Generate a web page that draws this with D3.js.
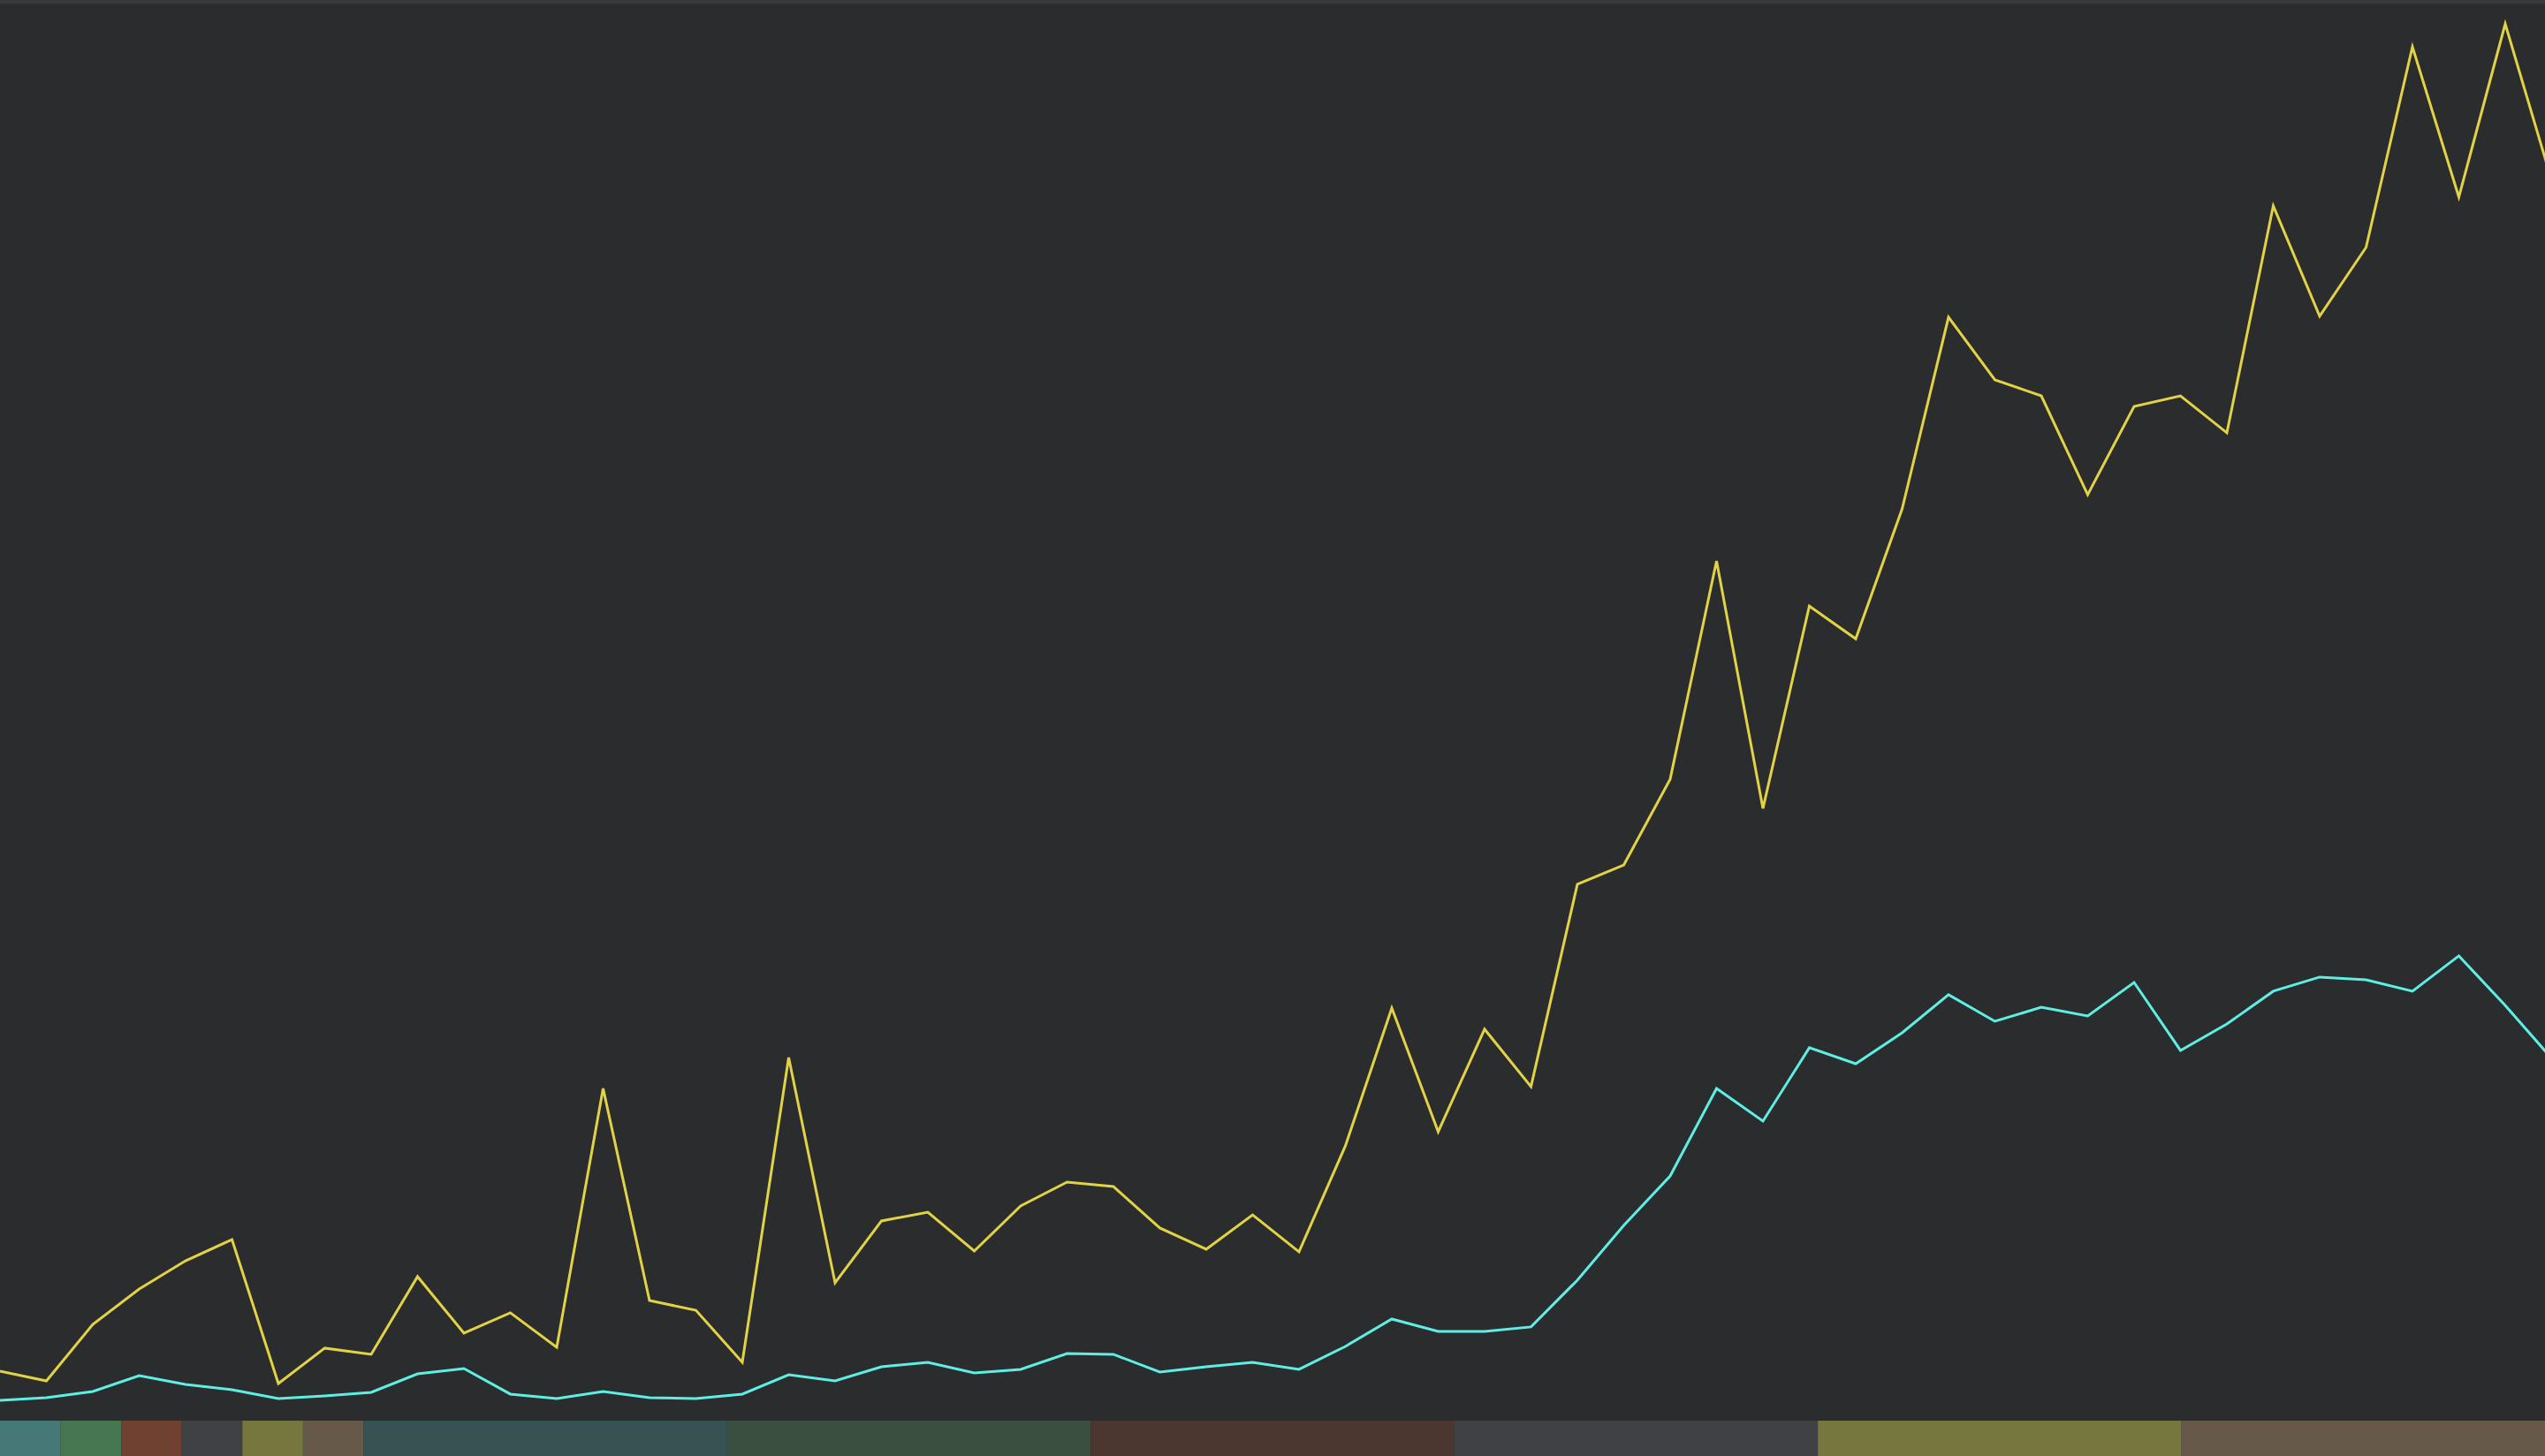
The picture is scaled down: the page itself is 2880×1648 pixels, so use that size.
<!DOCTYPE html>
<html>
<head>
<meta charset="utf-8">
<script src="https://cdn.jsdelivr.net/npm/d3@7"></script>
<style>
  html, body { margin: 0; padding: 0; background: #2a2c2e; overflow: hidden; }
  svg { display: block; }
</style>
</head>
<body>
<svg id="chart" width="2880" height="1648"></svg>
<script>
// ---- data ----
const indexes = d3.range(0, 56);
const yellowSeries = [30, 23.1, 63.1, 88.1, 108.1, 123.1, 21.3, 46.3, 41.9, 96.9,
  56.9, 71.3, 46.9, 230, 80, 73.1, 36.3, 251.9, 92.5, 136.3,
  142.5, 115, 146.9, 163.8, 160.6, 131.3, 116.3, 140.6, 114.4, 189.4,
  286.9, 199.4, 271.9, 231.3, 374.4, 388.1, 448.8, 603.1, 428.1, 571.3,
  548.1, 640, 775.6, 731.3, 720, 650, 712.5, 720, 693.8, 854.4,
  776.3, 825, 966.9, 860.6, 983.1, 872.5];
const cyanSeries = [9.4, 11.3, 15.6, 26.9, 20.6, 16.9, 10.6, 12.5, 15, 28.1,
  31.9, 13.8, 10.6, 15.6, 11.3, 10.6, 13.8, 27.5, 23.1, 33.1,
  36.3, 28.8, 31.3, 42.5, 41.9, 29.4, 33.1, 36.3, 31.3, 47.5,
  66.9, 58.1, 58.1, 61.3, 94.4, 133.1, 168.1, 230, 206.9, 258.8,
  247.5, 269.4, 296.3, 277.5, 287.5, 281.3, 305, 256.9, 275.6, 298.8,
  308.8, 306.9, 298.8, 323.8, 288.8, 251.3];
const bandUnits = [1, 1, 1, 1, 1, 1, 6, 6, 6, 6, 6, 6];
const bandColors = ["#467878", "#477750", "#6e4130", "#404144", "#76773f", "#67594a",
  "#375253", "#3a4f40", "#4b3630", "#404144", "#76773f", "#67594a"];

// ---- layout ----
const W = 2880, H = 1648;
const bandTop = 1608, bandH = 40;
const svg = d3.select("#chart");

svg.append("rect").attr("x", 0).attr("y", 0).attr("width", W).attr("height", H).attr("fill", "#2a2c2e");
svg.append("rect").attr("x", 0).attr("y", 0).attr("width", W).attr("height", 4).attr("fill", "#37393d");
svg.append("rect").attr("x", 0).attr("y", 4).attr("width", W).attr("height", 1).attr("fill", "#2e3032");

const x = d3.scaleLinear().domain([0, 54]).range([0, 2835]);
const y = d3.scaleLinear().domain([0, 1000]).range([1600, 0]);

const clip = svg.append("defs").append("clipPath").attr("id", "plotclip");
clip.append("rect").attr("x", 0).attr("y", 5).attr("width", W).attr("height", bandTop - 5);

const line = d3.line().x((d, i) => x(indexes[i])).y(d => y(d)).curve(d3.curveLinear);

const g = svg.append("g").attr("clip-path", "url(#plotclip)");
g.append("path").datum(yellowSeries).attr("d", line)
  .attr("fill", "none").attr("stroke", "#e2d245").attr("stroke-width", 3).attr("stroke-linejoin", "miter");
g.append("path").datum(cyanSeries).attr("d", line)
  .attr("fill", "none").attr("stroke", "#5eeee4").attr("stroke-width", 3).attr("stroke-linejoin", "miter");

// ---- bottom band ----
const cum = [0];
bandUnits.forEach(u => cum.push(cum[cum.length - 1] + u));
const bx = d3.scaleLinear().domain([0, cum[cum.length - 1]]).range([0, W]);
svg.append("g").selectAll("rect").data(bandUnits).join("rect")
  .attr("x", (d, i) => bx(cum[i]))
  .attr("width", (d, i) => bx(cum[i + 1]) - bx(cum[i]))
  .attr("y", bandTop).attr("height", bandH)
  .attr("fill", (d, i) => bandColors[i]);
</script>
</body>
</html>
